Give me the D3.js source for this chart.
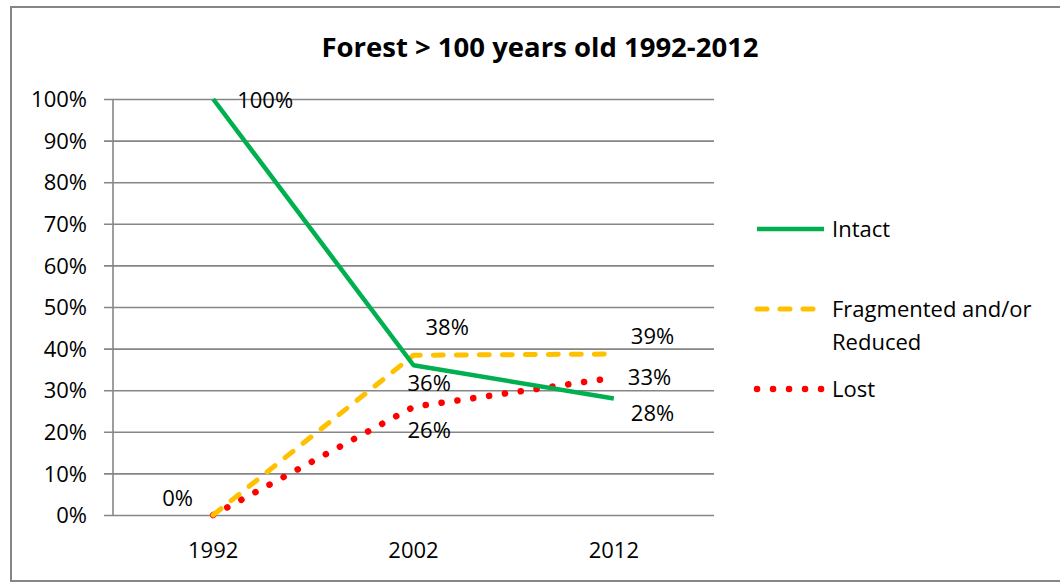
<!DOCTYPE html>
<html>
<head>
<meta charset="utf-8">
<script src="https://cdn.jsdelivr.net/npm/d3@7"></script>
<style>
  html, body { margin: 0; padding: 0; background: #fff; }
  svg { display: block; }
  text { font-family: "Open Sans", "Liberation Sans", sans-serif; fill: #000; }
</style>
</head>
<body>
<svg id="chart" width="1060" height="582"></svg>
<script>
// ---- data ----
const title = "Forest > 100 years old 1992-2012";
const years = ["1992", "2002", "2012"];
const intact = [1.00, 0.36, 0.28];
const fragmented = [0.00, 0.384, 0.387];
const lost = [0.00, 0.26, 0.33];
const yTicks = [0, 0.1, 0.2, 0.3, 0.4, 0.5, 0.6, 0.7, 0.8, 0.9, 1.0];
const seriesNames = ["Intact", "Fragmented and/or Reduced", "Lost"];

const svg = d3.select("#chart");
const FS = "22px";

// outer frame
svg.append("rect").attr("x", 11).attr("y", 7).attr("width", 1060).attr("height", 574)
  .attr("fill", "#fff").attr("stroke", "#868686").attr("stroke-width", 2);

const x = d3.scaleBand().domain(years).range([113, 714]);
const y = d3.scaleLinear().domain([0, 1]).range([515, 99]);
const xc = d => x(d) + x.bandwidth() / 2;

// title
svg.append("text").attr("x", 540).attr("y", 57).attr("text-anchor", "middle")
  .style("font-weight", "bold").style("font-size", "27.5px").text(title);

// gridlines + y axis
const yAxis = d3.axisLeft(y).tickValues(yTicks).tickFormat(d3.format(".0%"))
  .tickSize(-(714 - 104)).tickPadding(16);
const gy = svg.append("g").attr("transform", "translate(104,0)").call(yAxis);
gy.select(".domain").remove();
gy.selectAll(".tick line").attr("stroke", "#868686").attr("stroke-width", 1.6);
gy.selectAll(".tick text").style("font-size", FS).attr("x", -17).attr("dy", "0.35em");

// vertical y axis line
svg.append("line").attr("x1", 113).attr("x2", 113).attr("y1", y(1)).attr("y2", y(0))
  .attr("stroke", "#868686").attr("stroke-width", 1.6);

// x axis labels
const xAxis = d3.axisBottom(x).tickSize(0).tickPadding(0);
const gx = svg.append("g").attr("transform", `translate(0,${y(0)})`).call(xAxis);
gx.select(".domain").remove();
gx.selectAll(".tick text").style("font-size", FS).attr("dy", null).attr("y", 43);

// lines
const line = d3.line().x((d, i) => xc(years[i])).y(d => y(d));
const styles = [
  { data: intact, color: "#00B050", width: 4.5, dash: null, cap: "butt" },
  { data: fragmented, color: "#FFC000", width: 5, dash: "10,13", cap: "round" },
  { data: lost, color: "#FF0000", width: 6.5, dash: "0.1,15.9", cap: "round" }
];
// draw lost first, then fragmented, then intact on top
[2, 1, 0].forEach(k => {
  const s = styles[k];
  svg.append("path").datum(s.data).attr("d", line)
    .attr("fill", "none").attr("stroke", s.color).attr("stroke-width", s.width)
    .attr("stroke-linecap", s.cap).attr("stroke-linejoin", "round")
    .attr("stroke-dasharray", s.dash);
});

// data labels (offsets of text baseline-left relative to point)
const fmt = d => Math.round(d * 100) + "%";
const labelPlacements = [
  { series: intact, offs: [[24, 9], [-6, 26], [17, 22]] },
  { series: fragmented, offs: [null, [12, -20], [17, -10]] },
  { series: lost, offs: [[-51, -9], [-6, 31], [14, 7]] }
];
labelPlacements.forEach(lp => {
  lp.series.forEach((v, i) => {
    const o = lp.offs[i];
    if (!o) return;
    svg.append("text").attr("x", xc(years[i]) + o[0]).attr("y", y(v) + o[1])
      .style("font-size", FS).text(fmt(v));
  });
});

// legend
const legY = [229, 309, 389];
styles.forEach((s, k) => {
  svg.append("line").attr("x1", 757).attr("x2", k === 1 ? 814 : 824)
    .attr("y1", legY[k]).attr("y2", legY[k])
    .attr("stroke", s.color).attr("stroke-width", s.width)
    .attr("stroke-linecap", s.cap).attr("stroke-dasharray", s.dash);
});
svg.append("text").attr("x", 832).attr("y", legY[0] + 8).style("font-size", FS).text(seriesNames[0]);
const t2 = svg.append("text").attr("x", 832).attr("y", legY[1] + 8).style("font-size", FS);
t2.append("tspan").attr("x", 832).text("Fragmented and/or");
t2.append("tspan").attr("x", 832).attr("dy", "33px").text("Reduced");
svg.append("text").attr("x", 832).attr("y", legY[2] + 8).style("font-size", FS).text(seriesNames[2]);
</script>
</body>
</html>
